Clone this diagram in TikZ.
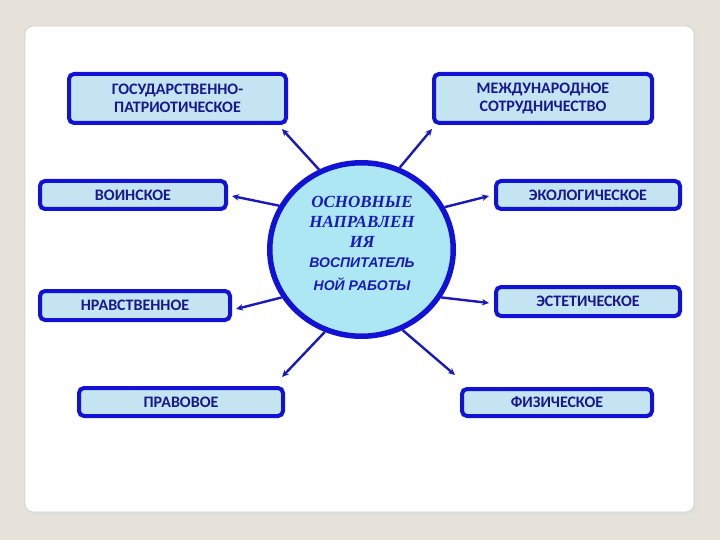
\documentclass[tikz,border=0pt]{standalone}
\usepackage{fontspec}
\setmainfont{Carlito}
\newfontfamily\boxfont{Carlito}
\newfontfamily\serfont{Liberation Serif}
\newfontfamily\arfont{Liberation Sans}
\usetikzlibrary{arrows.meta,shapes.geometric}
\definecolor{bgc}{HTML}{E6E1D9}
\definecolor{edgec}{HTML}{1212D6}
\definecolor{fillc}{HTML}{C4E4F1}
\definecolor{txtc}{HTML}{18188E}
\definecolor{ctxt}{HTML}{1A1AB4}
\definecolor{arrc}{HTML}{1A1AB8}
\tikzset{
  dirbox/.style={draw=edgec, line width=4pt, fill=fillc, rounded corners=5pt,
    inner sep=0pt, align=center, text=txtc,
    font=\boxfont\bfseries\fontsize{16}{18}\selectfont},
  hubnode/.style={draw=edgec, line width=5.5pt, fill=fillc!88!cyan, ellipse,
    inner sep=0pt},
  link/.style={draw=arrc, line width=2.4pt, -{Stealth[length=7pt,width=6.5pt]}},
  hubser/.style={text=ctxt, inner sep=0pt, font=\serfont\bfseries\itshape\fontsize{17}{20}\selectfont},
  hubsan/.style={text=ctxt, inner sep=0pt, font=\arfont\bfseries\itshape\fontsize{14}{16}\selectfont}
}
\begin{document}
\begin{tikzpicture}[x=1pt,y=-1pt]
\fill[bgc] (0,0) rectangle (720,540);
\useasboundingbox (0,0) rectangle (720,540);
% panel
\fill[black!12, rounded corners=8pt] (27,28) rectangle (697,515);
\filldraw[fill=white, draw=black!18, line width=0.8pt, rounded corners=8pt] (25,26) rectangle (694,512);

% boxes
\node[dirbox, minimum width=217, minimum height=49] (gos) at (177.5,98.5) {ГОСУДАРСТВЕННО-\\ПАТРИОТИЧЕСКОЕ};
\node[dirbox, minimum width=218, minimum height=49] (mezh) at (543,98.5) {МЕЖДУНАРОДНОЕ\\СОТРУДНИЧЕСТВО};
\node[dirbox, minimum width=186, minimum height=28] (voin) at (133,195) {ВОИНСКОЕ};
\node[dirbox, minimum width=184, minimum height=28] (eko) at (588,195) {ЭКОЛОГИЧЕСКОЕ};
\node[dirbox, minimum width=190, minimum height=29] (nrav) at (135,305.5) {НРАВСТВЕННОЕ};
\node[dirbox, minimum width=184, minimum height=29] (este) at (588,301.5) {ЭСТЕТИЧЕСКОЕ};
\node[dirbox, minimum width=204, minimum height=28] (prav) at (181,402) {ПРАВОВОЕ};
\node[dirbox, minimum width=190, minimum height=27] (fiz) at (557,402.5) {ФИЗИЧЕСКОЕ};

% hub
\node[hubnode, minimum width=183.5, minimum height=173.5] (hub) at (361.5,249.5) {};
\node[hubser] (h1) at (362,202) {ОСНОВНЫЕ};
\node[hubser] (h2) at (362,222) {НАПРАВЛЕН};
\node[hubser] (h3) at (362,242) {ИЯ};
\node[hubsan] (h4) at (362,263) {ВОСПИТАТЕЛЬ};
\node[hubsan] (h5) at (362,284) {НОЙ РАБОТЫ};

% arrow ends
\coordinate (tgos) at (282,129);
\coordinate (tmezh) at (432,129);
\coordinate (tvoin) at (232,196);
\coordinate (teko) at (489,196);
\coordinate (tnrav) at (236,309);
\coordinate (teste) at (489,303);
\coordinate (tprav) at (282,377);
\coordinate (tfiz) at (455,375);

\draw[link] (hub.118.8) -- (tgos);
\draw[link] (hub.65.4) -- (tmezh);
\draw[link] (hub.152.4) -- (tvoin);
\draw[link] (hub.27.1) -- (teko);
\draw[link] (hub.211.5) -- (tnrav);
\draw[link] (hub.329.2) -- (teste);
\draw[link] (hub.246) -- (tprav);
\draw[link] (hub.297.7) -- (tfiz);
\end{tikzpicture}
\end{document}
